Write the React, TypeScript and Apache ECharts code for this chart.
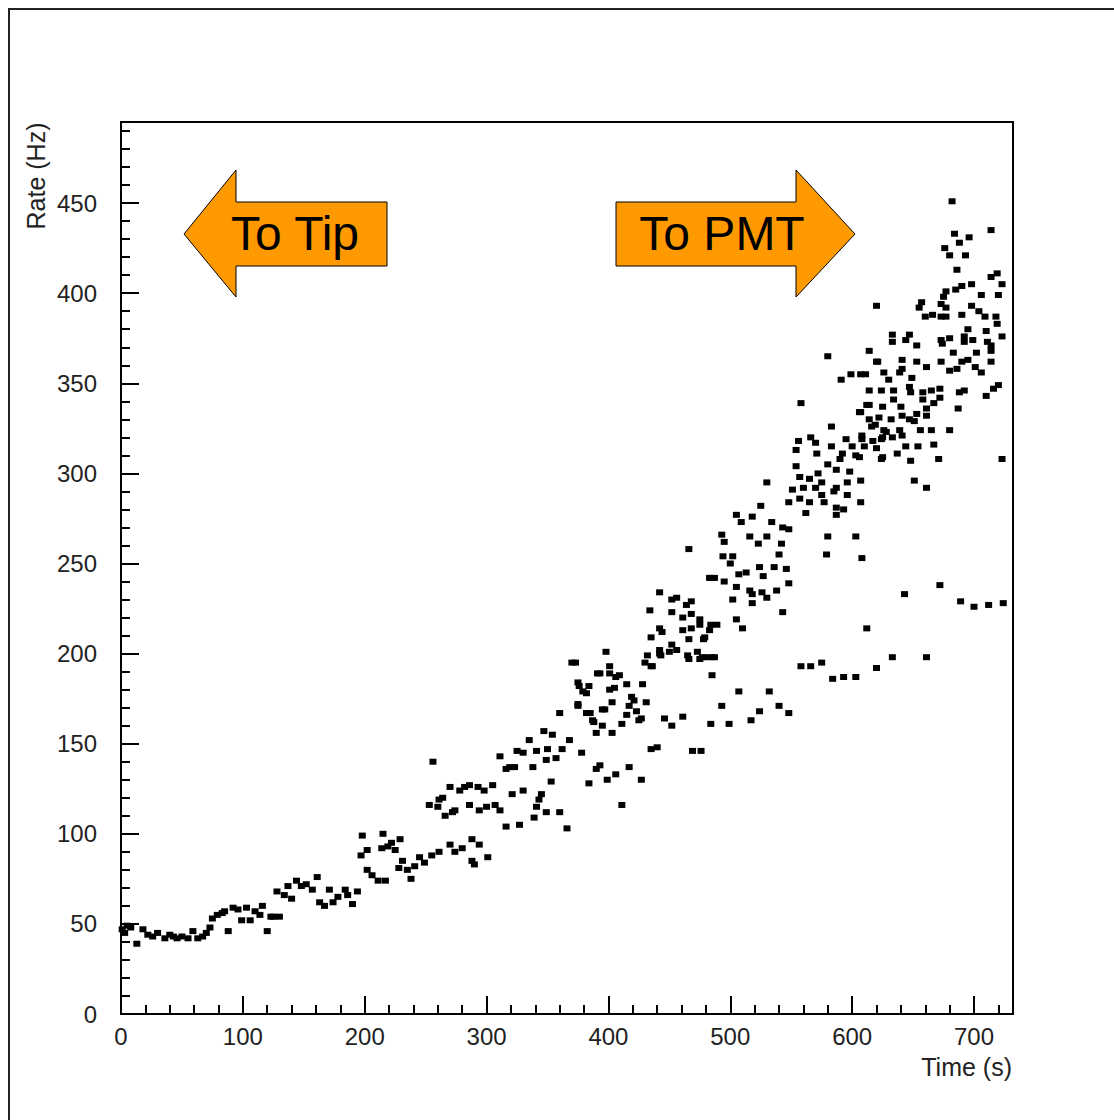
import React, { useEffect, useRef } from "react";
import * as echarts from "echarts";

// Axis ranges and ticks
const X_MAX = 732;
const Y_MAX = 495;
const X_MAJOR = 100;
const X_MINOR = 20;
const Y_MAJOR = 50;
const Y_MINOR = 10;

const xTitle = "Time (s)";
const yTitle = "Rate (Hz)";
const leftLabel = "To Tip";
const rightLabel = "To PMT";

// Main band of measured rates [time s, rate Hz]
const band0to200: [number, number][] = [
  [1, 47], [3, 45], [5, 49], [8, 48], [13, 39], [18, 47], [22, 44], [26, 43], [30, 45], [36, 42],
  [40, 44], [43, 43], [46, 42], [50, 43], [55, 42], [59, 46], [63, 42], [67, 43], [70, 45], [73, 48],
  [75, 53], [79, 55], [83, 56], [85, 57], [88, 46], [92, 59], [96, 58], [99, 52], [103, 59], [106, 52],
  [110, 57], [114, 55], [116, 60], [120, 46], [123, 54], [125, 54], [130, 54], [128, 68], [134, 66], [137, 71],
  [140, 64], [144, 74], [148, 71], [152, 72], [157, 69], [161, 76], [163, 62], [167, 60], [171, 69], [174, 62],
  [178, 65], [184, 69], [186, 66], [190, 61], [194, 68],
];

const band200to370: [number, number][] = [
  [198, 99], [197, 88], [202, 91], [202, 80], [206, 77], [211, 74], [215, 100], [214, 92], [219, 93], [217, 74],
  [222, 95], [225, 91], [229, 97], [228, 81], [231, 85], [235, 80], [238, 75], [241, 82], [245, 87], [249, 84],
  [253, 116], [256, 140], [260, 115], [261, 119], [264, 120], [266, 110], [270, 126], [272, 112], [274, 113], [278, 124],
  [282, 126], [286, 116], [286, 127], [293, 126], [294, 113], [298, 124], [300, 115], [305, 127], [307, 116], [311, 113],
  [255, 88], [261, 90], [270, 94], [274, 90], [280, 92], [288, 97], [290, 83], [288, 85], [294, 94], [301, 87],
  [311, 143], [316, 136], [319, 137], [323, 137], [325, 146], [330, 145], [335, 152], [338, 137], [341, 146], [347, 157],
  [349, 141], [350, 147], [354, 155], [357, 142], [362, 147], [368, 152], [378, 145], [360, 167],
  [316, 104], [327, 105], [321, 122], [330, 124], [341, 115], [345, 122], [353, 129], [343, 119], [349, 112], [366, 103],
  [339, 109], [360, 112],
];

const band370to490: [number, number][] = [
  [370, 195], [373, 195], [375, 184], [379, 179], [384, 182], [391, 189], [398, 201], [401, 189], [401, 193], [409, 188],
  [405, 181], [401, 180], [415, 183], [421, 174], [428, 183], [431, 173], [375, 171], [382, 167], [387, 163], [395, 160],
  [390, 156], [403, 156], [397, 169], [415, 166], [411, 161], [423, 168], [425, 163], [376, 182], [385, 167], [388, 162],
  [393, 189], [395, 169], [403, 173], [406, 187], [417, 171], [419, 176], [427, 164], [375, 172], [382, 178],
  [393, 138], [384, 128], [399, 130], [406, 133], [417, 137], [427, 130], [411, 116], [390, 136], [435, 147], [440, 148],
  [430, 195], [435, 193], [432, 199], [436, 193], [442, 200], [443, 199], [450, 201], [456, 202], [465, 199], [473, 201],
  [480, 198], [485, 188], [435, 209], [444, 212], [461, 213], [442, 214], [452, 223], [461, 220], [468, 214], [475, 219],
  [434, 224], [442, 234], [456, 231], [468, 229], [466, 258], [484, 242], [452, 230], [464, 227], [468, 222], [475, 216],
  [484, 216], [478, 208], [466, 208], [452, 205], [442, 202], [466, 197], [475, 197], [485, 198], [483, 213], [489, 216],
  [479, 209], [477, 198], [487, 198],
  [446, 164], [452, 160], [461, 165], [469, 146], [476, 146], [484, 161],
];

const band490to600: [number, number][] = [
  [493, 266], [495, 262], [505, 277], [509, 273], [518, 276], [525, 282], [530, 295], [534, 273], [543, 270], [548, 269],
  [516, 265], [523, 261], [530, 265], [542, 261], [540, 255], [494, 254], [500, 250], [502, 254], [483, 242], [487, 242],
  [495, 240], [507, 244], [513, 245], [524, 248], [527, 243], [536, 248], [546, 247], [505, 237], [516, 235], [518, 233],
  [526, 234], [530, 231], [538, 235], [548, 239], [502, 230], [518, 228], [543, 223], [505, 219], [510, 214],
  [507, 179], [532, 179], [493, 171], [524, 168], [540, 171], [548, 167], [517, 163], [499, 161],
  [558, 339], [554, 313], [566, 320], [570, 317], [571, 311], [583, 315], [583, 326], [595, 319], [600, 315], [592, 311],
  [554, 304], [557, 298], [565, 297], [570, 292], [575, 295], [575, 288], [587, 302], [598, 301], [596, 295], [587, 292],
  [596, 288], [548, 284], [557, 286], [565, 284], [562, 278], [577, 284], [587, 281], [593, 280], [587, 277], [580, 365],
  [580, 265], [579, 255], [551, 291], [560, 292], [572, 300], [580, 305], [590, 308], [556, 318], [585, 290], [591, 352],
  [599, 355],
];

const band600to730: [number, number][] = [
  [608, 319], [603, 310], [606, 334], [614, 338], [619, 327], [624, 319], [628, 323], [624, 308], [607, 296], [607, 284],
  [603, 265], [608, 253],
  [682, 451], [714, 435], [684, 433], [696, 431], [688, 428], [676, 425], [680, 421], [693, 421], [686, 413], [719, 411],
  [723, 405], [714, 409], [698, 405], [690, 404], [685, 402], [677, 401], [675, 398], [706, 399], [720, 399], [620, 393],
  [657, 395], [655, 392], [673, 394], [677, 392], [698, 393], [704, 390], [709, 387], [660, 387], [666, 388], [673, 387],
  [677, 387], [690, 388], [718, 387], [719, 383], [633, 377], [633, 373], [647, 377], [644, 374], [653, 371], [673, 374],
  [680, 375], [674, 372], [695, 380], [692, 376], [692, 373], [699, 374], [710, 379], [711, 373], [723, 376], [714, 371],
  [620, 362], [641, 363], [641, 358], [653, 362], [661, 359], [673, 362], [683, 367], [690, 362], [695, 363], [702, 367],
  [714, 368], [714, 362], [680, 357], [686, 358], [701, 359], [706, 356], [611, 355], [626, 356], [630, 352], [639, 356],
  [649, 353], [614, 346], [624, 346], [634, 346], [647, 348], [648, 345], [658, 345], [665, 346], [672, 347], [688, 345],
  [692, 346], [720, 349], [716, 347], [710, 343], [672, 342], [612, 338], [625, 337], [634, 341], [640, 337], [658, 341],
  [661, 336], [667, 339], [687, 336], [607, 334], [614, 330], [622, 331], [632, 330], [641, 332], [647, 330], [653, 333],
  [661, 332], [616, 326], [626, 324], [639, 324], [651, 329], [656, 324], [665, 324], [680, 324], [608, 321], [617, 318],
  [625, 320], [633, 320], [641, 321], [610, 315], [620, 314], [644, 315], [654, 315], [667, 316], [606, 309], [625, 309],
  [637, 311], [648, 307], [671, 308], [723, 308], [651, 296], [661, 292], [607, 355], [614, 368], [621, 362],
];

// Secondary lower band of rates
const lowerBand: [number, number][] = [
  [558, 193], [566, 193], [575, 195], [584, 186], [593, 187], [603, 187], [612, 214], [620, 192],
  [672, 238], [643, 233], [661, 198], [633, 198], [689, 229], [700, 226], [712, 227], [724, 228],
];

const allPoints = [
  ...band0to200,
  ...band200to370,
  ...band370to490,
  ...band490to600,
  ...band600to730,
  ...lowerBand,
];

const FONT = "'Liberation Sans', Arial, sans-serif";

export default function App() {
  const ref = useRef<HTMLDivElement>(null);

  useEffect(() => {
    if (!ref.current) return;
    const chart = echarts.init(ref.current, null, { renderer: "svg" });

    const axisLineStyle = { color: "#000", width: 2 };
    const labelStyle = {
      fontSize: 24,
      color: "#222",
      fontFamily: FONT,
    };

    const arrowStyle = { fill: "#ff9900", stroke: "#000", lineWidth: 1 };

    chart.setOption({
      animation: false,
      backgroundColor: "#fff",
      grid: {
        left: 121,
        top: 122,
        width: 892,
        height: 892,
        show: true,
        borderColor: "#000",
        borderWidth: 2,
        backgroundColor: "transparent",
        containLabel: false,
      },
      xAxis: [
        {
          type: "value",
          min: 0,
          max: X_MAX,
          interval: X_MINOR,
          position: "bottom",
          axisLine: { show: true, lineStyle: axisLineStyle },
          axisTick: { show: true, inside: true, length: 9, lineStyle: axisLineStyle },
          axisLabel: { show: false },
          splitLine: { show: false },
        },
        {
          type: "value",
          min: 0,
          max: X_MAX,
          interval: X_MAJOR,
          position: "bottom",
          axisLine: { show: false },
          axisTick: { show: true, inside: true, length: 18, lineStyle: axisLineStyle },
          axisLabel: {
            ...labelStyle,
            margin: 10,
            formatter: (v: number) => (v % X_MAJOR === 0 ? String(v) : ""),
          },
          splitLine: { show: false },
        },
      ],
      yAxis: [
        {
          type: "value",
          min: 0,
          max: Y_MAX,
          interval: Y_MINOR,
          position: "left",
          axisLine: { show: true, lineStyle: axisLineStyle },
          axisTick: { show: true, inside: true, length: 9, lineStyle: axisLineStyle },
          axisLabel: { show: false },
          splitLine: { show: false },
        },
        {
          type: "value",
          min: 0,
          max: Y_MAX,
          interval: Y_MAJOR,
          position: "left",
          axisLine: { show: false },
          axisTick: { show: true, inside: true, length: 18, lineStyle: axisLineStyle },
          axisLabel: {
            ...labelStyle,
            margin: 24,
            formatter: (v: number) => (v % Y_MAJOR === 0 ? String(v) : ""),
          },
          splitLine: { show: false },
        },
      ],
      series: [
        {
          type: "scatter",
          xAxisIndex: 1,
          yAxisIndex: 1,
          data: allPoints,
          symbol: "rect",
          symbolSize: [7, 6],
          itemStyle: { color: "#000", opacity: 1 },
          silent: true,
        },
      ],
      graphic: [
        {
          type: "rect",
          shape: { x: 9, y: 9, width: 1300, height: 1300 },
          style: { fill: "none", stroke: "#222", lineWidth: 2 },
          silent: true,
        },
        {
          type: "polygon",
          shape: {
            points: [
              [184, 234], [236, 170], [236, 202], [387, 202], [387, 266], [236, 266], [236, 297],
            ],
          },
          style: arrowStyle,
        },
        {
          type: "polygon",
          shape: {
            points: [
              [616, 202], [796, 202], [796, 170], [855, 234], [796, 297], [796, 266], [616, 266],
            ],
          },
          style: arrowStyle,
        },
        {
          type: "text",
          x: 295,
          y: 233,
          style: {
            text: leftLabel,
            fontSize: 48,
            fontFamily: FONT,
            fill: "#000",
            align: "center",
            verticalAlign: "middle",
          },
        },
        {
          type: "text",
          x: 722,
          y: 233,
          style: {
            text: rightLabel,
            fontSize: 48,
            fontFamily: FONT,
            fill: "#000",
            align: "center",
            verticalAlign: "middle",
          },
        },
        {
          type: "text",
          x: 1012,
          y: 1067,
          style: {
            text: xTitle,
            fontSize: 25,
            fontFamily: FONT,
            fill: "#222",
            align: "right",
            verticalAlign: "middle",
          },
        },
        {
          type: "text",
          x: 36,
          y: 176,
          rotation: Math.PI / 2,
          style: {
            text: yTitle,
            fontSize: 25,
            fontFamily: FONT,
            fill: "#222",
            align: "center",
            verticalAlign: "middle",
          },
        },
      ],
    });

    return () => chart.dispose();
  }, []);

  return (
    <div
      ref={ref}
      style={{ position: "fixed", left: 0, top: 0, width: 1114, height: 1120 }}
    />
  );
}
